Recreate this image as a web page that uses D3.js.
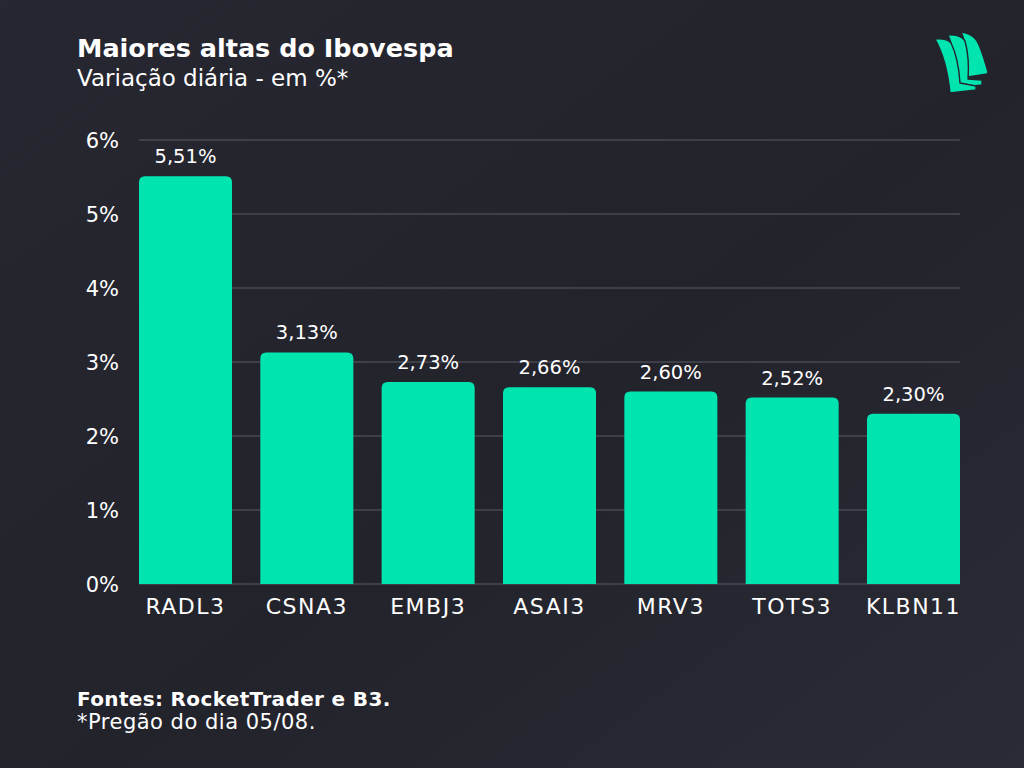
<!DOCTYPE html>
<html>
<head>
<meta charset="utf-8">
<script src="https://cdn.jsdelivr.net/npm/d3@7/dist/d3.min.js"></script>
<style>
  html, body { margin: 0; padding: 0; background: #24242d; }
  svg { display: block; }
  text { font-family: "DejaVu Sans", "Noto Sans", sans-serif; }
</style>
</head>
<body>
<svg id="chart" width="1024" height="768"></svg>
<script>
const categories = ["RADL3", "CSNA3", "EMBJ3", "ASAI3", "MRV3", "TOTS3", "KLBN11"];
const values = [5.51, 3.13, 2.73, 2.66, 2.60, 2.52, 2.30];
const yTicks = [0, 1, 2, 3, 4, 5, 6];
const title = "Maiores altas do Ibovespa";
const subtitle = "Variação diária - em %*";
const source = "Fontes: RocketTrader e B3.";
const note = "*Pregão do dia 05/08.";

const svg = d3.select("#chart");
const W = 1024, H = 768;

// background
const defs = svg.append("defs");
const bg = defs.append("linearGradient").attr("id", "bg").attr("x1", 0).attr("y1", 0).attr("x2", 1).attr("y2", 1);
bg.append("stop").attr("offset", "0%").attr("stop-color", "#272731");
bg.append("stop").attr("offset", "55%").attr("stop-color", "#23232c");
bg.append("stop").attr("offset", "100%").attr("stop-color", "#2b2b36");
svg.append("rect").attr("width", W).attr("height", H).attr("fill", "url(#bg)");

const x = d3.scaleBand().domain(categories).range([139, 960]).paddingInner(0.2335).paddingOuter(0);
const y = d3.scaleLinear().domain([0, 6]).range([584, 140]);

// gridlines
svg.append("g").selectAll("line").data(yTicks).join("line")
  .attr("x1", 139).attr("x2", 960)
  .attr("y1", d => y(d)).attr("y2", d => y(d))
  .attr("stroke", "#5a5a64").attr("stroke-width", 1);

// y tick labels
svg.append("g").selectAll("text").data(yTicks).join("text")
  .attr("x", 119).attr("y", d => y(d)).attr("dy", "0.36em")
  .attr("text-anchor", "end").attr("fill", "#ffffff")
  .attr("font-size", 21).text(d => d + "%");

// bars with rounded top corners
const r = 6;
svg.append("g").selectAll("path").data(values).join("path")
  .attr("fill", "#00e4b0")
  .attr("d", (d, i) => {
    const x0 = x(categories[i]), w = x.bandwidth();
    const yt = y(d), yb = y(0);
    return `M${x0},${yb}V${yt + r}Q${x0},${yt} ${x0 + r},${yt}H${x0 + w - r}Q${x0 + w},${yt} ${x0 + w},${yt + r}V${yb}Z`;
  });

// value labels
svg.append("g").selectAll("text").data(values).join("text")
  .attr("x", (d, i) => x(categories[i]) + x.bandwidth() / 2)
  .attr("y", d => y(d) - 13)
  .attr("text-anchor", "middle").attr("fill", "#ffffff")
  .attr("font-size", 19.5)
  .text(d => d.toFixed(2).replace(".", ",") + "%");

// category labels
svg.append("g").selectAll("text").data(categories).join("text")
  .attr("x", d => x(d) + x.bandwidth() / 2)
  .attr("y", 614)
  .attr("text-anchor", "middle").attr("fill", "#ffffff")
  .attr("font-size", 22).attr("letter-spacing", 1.5)
  .text(d => d);

// titles
svg.append("text").attr("x", 77).attr("y", 57).attr("fill", "#ffffff")
  .attr("font-size", 25.5).attr("font-weight", 700).text(title);
svg.append("text").attr("x", 77).attr("y", 86).attr("fill", "#ffffff")
  .attr("font-size", 23).attr("font-weight", 400).text(subtitle);

// footer
svg.append("text").attr("x", 77).attr("y", 706).attr("fill", "#ffffff")
  .attr("font-size", 20).attr("letter-spacing", 0.35).attr("font-weight", 700).text(source);
svg.append("text").attr("x", 77).attr("y", 729).attr("fill", "#ffffff")
  .attr("font-size", 21).attr("letter-spacing", 0.5).attr("font-weight", 400).text(note);

// logo (three overlapping sails)
const logo = svg.append("g").attr("fill", "#00e4b0").attr("stroke", "#24242d").attr("stroke-width", 1.4).attr("stroke-linejoin", "round");
logo.append("path").attr("d", "M961,32 Q972,33 977,41 C982,50 985,62 988,72 L987,74 L968,77 C968,60 967,44 961,32 Z");
logo.append("path").attr("d", "M948,35 Q960,34 965,41 C968,52 969,66 968,79 L982,80 L982,85 L957,88 C956,66 954,48 948,35 Z");
logo.append("path").attr("d", "M935,39 Q947,38 951,43 C956,53 959,68 960,83 L976,86 L976,90 L950,93 C948,72 943,53 935,39 Z");
</script>
</body>
</html>
